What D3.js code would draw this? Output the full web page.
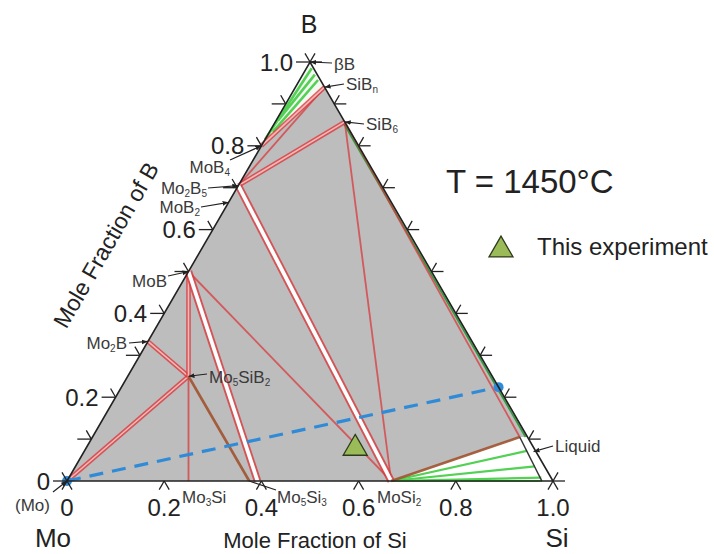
<!DOCTYPE html>
<html lang="en">
  <head>
    <title>Mo-Si-B isothermal section</title>
    <script src="https://d3js.org/d3.v7.min.js"></script>
    <style>
      body {
        margin: 0;
        background: #fff;
      }
      text {
        font-family: "Liberation Sans", Arial, sans-serif;
        fill: #222;
      }
      .phase-label {
        fill: #3a3a3a;
      }
    </style>
  </head>
  <body>
    <script>
      // phase compositions, mole fraction Si and B (Mo is the rest)
      const phaseNames = ['Mo', 'Mo3Si', 'Mo5Si3', 'Mo5Si3b', 'MoSi2', 'Si', 'Mo2B', 'MoB', 'MoB2', 'Mo2B5',
                          'MoB4', 'SiB6', 'SiBn', 'B', 'Mo5SiB2', 'LiqTop', 'LiqBot', 'LiqEdge', 'LiqMid', 'BlueEnd'];
      const phaseSi = [0, 0.25, 0.375, 0.392, 0.667, 1, 0, 0, 0, 0,
                       0, 0.143, 0.06, 0, 0.125, 0.879, 0.977, 0.895, 0.925, 0.776];
      const phaseB = [0, 0, 0, 0, 0, 0, 0.333, 0.5, 0.665, 0.705,
                      0.8, 0.857, 0.94, 1, 0.25, 0.105, 0, 0.105, 0.07, 0.224];

      // tie lines between phases
      const wideTies = [['MoB', 'Mo5Si3b'], ['Mo2B5', 'MoSi2']];
      const doubleTies = [['Mo', 'Mo5SiB2'], ['Mo2B', 'Mo5SiB2'], ['Mo5SiB2', 'MoB'], ['Mo2B5', 'SiB6'], ['MoB4', 'SiBn']];
      const singleTies = [['Mo5SiB2', 'Mo3Si'], ['MoB', 'MoSi2'], ['SiB6', 'MoSi2'], ['Mo2B5', 'SiBn'], ['SiB6', 'LiqTop']];
      const brownTies = [['Mo5SiB2', 'Mo5Si3'], ['MoSi2', 'LiqTop']];

      // green tie lines MoSi2 + liquid (end points on the liquid boundary)
      const liqTieSi = [0.910, 0.945, 0.972, 0.977];
      const liqTieB = [0.072, 0.035, 0.008, 0];
      // green tie lines near the boron corner [Si1, B1, Si2, B2]
      const apexTieSi1 = [0, 0.007, 0.004];
      const apexTieB1 = [0.815, 0.833, 0.86];
      const apexTieSi2 = [0.011, 0.038, 0.025];
      const apexTieB2 = [0.985, 0.957, 0.97];
      // green line along the Si-B edge
      const edgeGreenSi = [0.141, 0.891];
      const edgeGreenB = [0.855, 0.105];

      // this experiment
      const expSi = [0.554];
      const expB = [0.078];

      // ticks
      const bottomTickValues = [0, 0.2, 0.4, 0.6, 0.8, 1.0];
      const bottomTickLabels = ['0', '0.2', '0.4', '0.6', '0.8', '1.0'];
      const sideTickValues = [0, 0.1, 0.2, 0.3, 0.4, 0.5, 0.6, 0.7, 0.8, 0.9, 1.0];
      const leftLabelValues = [0, 0.2, 0.4, 0.6, 0.8, 1.0];
      const leftTickLabels = ['0', '0.2', '0.4', '0.6', '0.8', '1.0'];

      // phase labels (underscore = subscript)
      const labelTexts = ['βB', 'SiB_n', 'SiB_6', 'MoB_4', 'Mo_2B_5', 'MoB_2', 'MoB', 'Mo_2B', 'Mo_5SiB_2',
                          'Mo_3Si', 'Mo_5Si_3', 'MoSi_2', 'Liquid', '(Mo)'];
      const labelTargets = ['B', 'SiBn', 'SiB6', 'MoB4', 'Mo2B5', 'MoB2', 'MoB', 'Mo2B', 'Mo5SiB2',
                            null, 'Mo5Si3', null, 'LiqMid', 'Mo'];

      // label placement
      const labelLayout = [
        {x: 334, y: 70, anchor: 'start', from: [332, 63]},
        {x: 346, y: 90, anchor: 'start', from: [344, 84]},
        {x: 366, y: 130, anchor: 'start', from: [364, 124]},
        {x: 230, y: 173, anchor: 'end', from: [230, 160]},
        {x: 207, y: 194, anchor: 'end', from: [208, 188]},
        {x: 200, y: 213, anchor: 'end', from: [201, 207]},
        {x: 167, y: 287, anchor: 'end', from: [168, 276]},
        {x: 127, y: 349, anchor: 'end', from: [129, 343]},
        {x: 209, y: 383, anchor: 'start', from: [207, 374]},
        {x: 182, y: 503, anchor: 'start', from: null},
        {x: 277, y: 503, anchor: 'start', from: [276, 490]},
        {x: 377, y: 503, anchor: 'start', from: null},
        {x: 555, y: 452, anchor: 'start', from: [553, 446]},
        {x: 15, y: 511, anchor: 'start', from: [53, 492]}
      ];

      const w = 714;
      const h = 554;
      const tickLen = 10;

      const xScale = d3.scaleLinear().domain([0, 1]).range([67, 553]);
      const yScale = d3.scaleLinear().domain([0, 1]).range([481, 62]);
      const tern = (si, b) => [xScale(si + b / 2), yScale(b)];
      const pos = name => {
        const i = phaseNames.indexOf(name);
        return tern(phaseSi[i], phaseB[i]);
      };
      const line = d3.line();

      const svg = d3.select('body')
                    .append('svg')
                    .attr('width', w)
                    .attr('height', h);

      const defs = svg.append('defs');
      defs.append('marker')
          .attr('id', 'arrow')
          .attr('viewBox', '0 0 10 10')
          .attr('refX', 10)
          .attr('refY', 5)
          .attr('markerWidth', 5)
          .attr('markerHeight', 5)
          .attr('orient', 'auto')
        .append('path')
          .attr('d', 'M0,1 L10,5 L0,9 z')
          .attr('fill', '#222');

      // gray field
      svg.append('path')
         .attr('d', line([pos('Mo'), pos('Si'), pos('B')]) + 'Z')
         .attr('fill', '#bdbdbd');

      // white regions
      svg.append('path')
         .attr('d', line([pos('MoB4'), pos('B'), pos('SiBn')]) + 'Z')
         .attr('fill', '#f4f8f2');
      svg.append('path')
         .attr('d', line([pos('MoSi2'), pos('LiqTop'), pos('LiqEdge'), pos('Si')]) + 'Z')
         .attr('fill', '#ffffff');

      // green tie lines
      const green = svg.append('g')
                       .attr('stroke', '#52d152')
                       .attr('stroke-width', 2.2)
                       .attr('fill', 'none');
      liqTieSi.forEach((s, i) => {
        green.append('path').attr('d', line([pos('MoSi2'), tern(s, liqTieB[i])]));
      });
      apexTieSi1.forEach((s, i) => {
        green.append('path')
             .attr('d', line([tern(s, apexTieB1[i]), tern(apexTieSi2[i], apexTieB2[i])]))
             .attr('stroke-width', 2.6);
      });
      green.append('path')
           .attr('d', line([tern(edgeGreenSi[0], edgeGreenB[0]), tern(edgeGreenSi[1], edgeGreenB[1])]))
           .attr('stroke', '#2f9a3a')
           .attr('stroke-width', 1.6);

      // tie lines
      const ties = svg.append('g').attr('fill', 'none').attr('stroke-linecap', 'butt');
      const drawTie = (pair, color, width, opacity) => {
        ties.append('path')
            .attr('d', line([pos(pair[0]), pos(pair[1])]))
            .attr('stroke', color)
            .attr('stroke-width', width)
            .attr('stroke-opacity', opacity);
      };
      singleTies.forEach(p => drawTie(p, '#d9383c', 1.8, 0.75));
      doubleTies.forEach(p => {
        drawTie(p, '#d9383c', 4.6, 0.8);
        drawTie(p, '#f3b9b9', 1.6, 1);
      });
      wideTies.forEach(p => {
        drawTie(p, '#d9383c', 7.5, 0.8);
        drawTie(p, '#ffffff', 3.8, 1);
      });
      brownTies.forEach(p => {
        drawTie(p, '#a0522d', 2.6, 0.9);
      });

      // liquid band
      svg.append('path')
         .attr('d', line([pos('LiqTop'), pos('LiqBot')]))
         .attr('stroke', '#333')
         .attr('stroke-width', 1.5)
         .attr('fill', 'none');

      // blue dashed line
      svg.append('path')
         .attr('d', line([pos('Mo'), pos('BlueEnd')]))
         .attr('stroke', '#2f8bd8')
         .attr('stroke-width', 3.2)
         .attr('stroke-dasharray', '14,9')
         .attr('fill', 'none');
      svg.selectAll('.blue-dot')
         .data(['Mo', 'BlueEnd'])
         .enter()
         .append('circle')
           .attr('class', 'blue-dot')
           .attr('cx', d => pos(d)[0])
           .attr('cy', d => pos(d)[1])
           .attr('r', 5)
           .attr('fill', '#2f8bd8');

      // triangle frame
      svg.append('path')
         .attr('d', line([pos('Mo'), pos('Si'), pos('B')]) + 'Z')
         .attr('fill', 'none')
         .attr('stroke', '#222')
         .attr('stroke-width', 1.6);

      // ticks
      const ticks = svg.append('g').attr('stroke', '#222').attr('stroke-width', 1.3);
      const arm = (p, dx, dy) => {
        ticks.append('line')
             .attr('x1', p[0]).attr('y1', p[1])
             .attr('x2', p[0] + dx * tickLen).attr('y2', p[1] + dy * tickLen);
      };
      bottomTickValues.forEach(v => {
        const p = tern(v, 0);
        arm(p, -0.5, 0.866);
        arm(p, 0.5, 0.866);
      });
      sideTickValues.forEach(v => {
        const pl = tern(0, v);
        arm(pl, -1.4, 0);
        arm(pl, -0.5, -0.866);
        const pr = tern(1 - v, v);
        arm(pr, 1.2, 0);
        arm(pr, 0.5, -0.866);
      });

      // tick labels
      svg.selectAll('.bottom-label')
         .data(bottomTickValues)
         .enter()
         .append('text')
           .attr('class', 'bottom-label')
           .attr('x', d => tern(d, 0)[0])
           .attr('y', 516)
           .attr('text-anchor', 'middle')
           .attr('font-size', 24)
           .text((d, i) => bottomTickLabels[i]);

      svg.selectAll('.left-label')
         .data(leftLabelValues)
         .enter()
         .append('text')
           .attr('class', 'left-label')
           .attr('x', d => tern(0, d)[0] - 17)
           .attr('y', d => tern(0, d)[1] + 8.5)
           .attr('text-anchor', 'end')
           .attr('font-size', 24)
           .text((d, i) => leftTickLabels[i]);

      // phase labels
      const richText = (sel, str) => {
        str.split(/(_\w)/).filter(s => s.length).forEach((part, k, arr) => {
          if (part[0] === '_') {
            sel.append('tspan').attr('font-size', 10).attr('dy', 3).text(part.slice(1));
          } else {
            const prevSub = k > 0 && arr[k - 1][0] === '_';
            sel.append('tspan').attr('dy', prevSub ? -3 : 0).text(part);
          }
        });
      };
      labelTexts.forEach((t, i) => {
        const lay = labelLayout[i];
        const txt = svg.append('text')
                       .attr('class', 'phase-label')
                       .attr('x', lay.x)
                       .attr('y', lay.y)
                       .attr('text-anchor', lay.anchor)
                       .attr('font-size', 17);
        richText(txt, t);
        if (lay.from && labelTargets[i]) {
          const to = pos(labelTargets[i]);
          svg.append('line')
             .attr('x1', lay.from[0]).attr('y1', lay.from[1])
             .attr('x2', to[0]).attr('y2', to[1])
             .attr('stroke', '#222')
             .attr('stroke-width', 1.2)
             .attr('marker-end', t === 'Mo_5Si_3' ? null : 'url(#arrow)');
        }
      });

      // corner and axis titles
      svg.append('text').attr('x', 309).attr('y', 33).attr('text-anchor', 'middle')
         .attr('font-size', 25).text('B');
      svg.append('text').attr('x', 53).attr('y', 547).attr('text-anchor', 'middle')
         .attr('font-size', 26).text('Mo');
      svg.append('text').attr('x', 557).attr('y', 547).attr('text-anchor', 'middle')
         .attr('font-size', 26).text('Si');
      svg.append('text').attr('x', 315).attr('y', 548).attr('text-anchor', 'middle')
         .attr('font-size', 22).text('Mole Fraction of Si');
      svg.append('text')
         .attr('transform', 'translate(106,245) rotate(-60)')
         .attr('text-anchor', 'middle')
         .attr('dy', '0.35em')
         .attr('font-size', 23)
         .text('Mole Fraction of B');

      svg.append('text').attr('x', 446).attr('y', 193)
         .attr('font-size', 33).text('T = 1450°C');

      // experiment marker and legend
      const tri = d3.symbol(d3.symbolTriangle, 250);
      svg.selectAll('.exp')
         .data(expSi)
         .enter()
         .append('path')
           .attr('class', 'exp')
           .attr('d', tri)
           .attr('transform', (d, i) => `translate(${tern(d, expB[i])})`)
           .attr('fill', '#9bbb59')
           .attr('stroke', '#2e3a1c')
           .attr('stroke-width', 1.3);
      svg.append('path')
         .attr('d', tri)
         .attr('transform', 'translate(501,250)')
         .attr('fill', '#9bbb59')
         .attr('stroke', '#2e3a1c')
         .attr('stroke-width', 1.3);
      svg.append('text').attr('x', 537).attr('y', 255)
         .attr('font-size', 24).text('This experiment');
    </script>
  </body>
</html>
